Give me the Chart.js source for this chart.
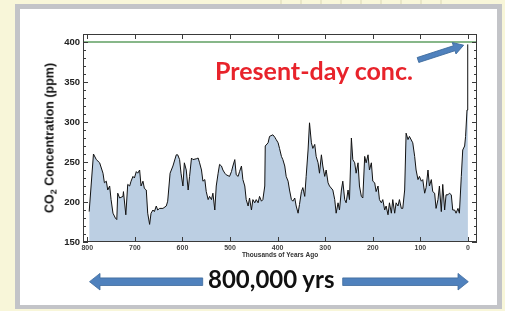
<!DOCTYPE html>
<html>
<head>
<meta charset="utf-8">
<script src="https://cdn.jsdelivr.net/npm/chart.js@4"></script>
<style>
    body {
        margin: 0;
        width: 505px;
        height: 311px;
        background: #f8f6d9;
        position: relative;
        overflow: hidden;
        font-family: "Liberation Sans", Arial, sans-serif;
    }
    #grid {
        position: absolute; left: 262px; top: 0; width: 192px; height: 5px;
        background: repeating-linear-gradient(90deg, #f8f6d9 0 18px, #e9e6c6 18px 20px);
    }
    #frame { position: absolute; left: 15px; top: 4px; width: 487px; height: 305px; background: #c3c4c8; }
    #panel { position: absolute; left: 20px; top: 9px; width: 477px; height: 296px; background: #fff; }
    #myChart { position: absolute; left: 0; top: 0; }
    #ytitle {
        position: absolute; left: 50px; top: 138px;
        transform: translate(-50%, -50%) rotate(-90deg);
        white-space: nowrap; font-weight: bold; font-size: 12.5px; line-height: 13px; color: #111;
    }
    #ytitle sub { font-size: 9px; vertical-align: -3px; line-height: 0; }
    #present {
        position: absolute; left: 215px; top: 58px;
        font-family: Lato, "Open Sans", sans-serif; font-weight: bold; font-size: 25px; line-height: 25px;
        color: #e8232b; white-space: nowrap;
    }
    #span {
        position: absolute; left: 208px; top: 267px;
        font-family: Lato, "Open Sans", sans-serif; font-weight: bold; font-size: 24px; line-height: 24px;
        color: #111; white-space: nowrap;
    }
    #arrows { position: absolute; left: 0; top: 0; }
</style>
</head>
<body>
<div id="grid"></div>
<div id="frame"></div>
<div id="panel"></div>
<canvas id="myChart" width="505" height="311"></canvas>
<div id="ytitle">CO<sub>2</sub> Concentration (ppm)</div>
<div id="present">Present-day conc.</div>
<div id="span">800,000 yrs</div>
<svg id="arrows" width="505" height="311">
    <g fill="#4f81bd" stroke="#3d6a9c" stroke-width="0.8">
        <g transform="translate(418,60) rotate(-18)">
            <polygon points="0,-2.6 38,-2.6 38,-6 48,0 38,6 38,2.6 0,2.6"/>
        </g>
        <polygon points="89.5,281.7 100,273.4 100,277.9 202.7,277.9 202.7,285.5 100,285.5 100,290"/>
        <polygon points="468.3,281.7 458,273.4 458,277.9 342.7,277.9 342.7,285.5 458,285.5 458,290"/>
    </g>
</svg>

<script>
//============================
//  data
//============================
// thousands of years ago
const ages = [
    796, 787, 781, 774, 767, 764, 760, 757, 753, 750, 746, 741, 738, 736, 732, 725, 724, 719, 715, 711,
    708, 704, 701, 697, 694, 690, 687, 683, 680, 676, 673, 669, 666, 662, 659, 655, 652, 648, 641, 634,
    631, 626, 620, 613, 610, 606, 603, 599, 596, 592, 588, 585, 581, 578, 571, 567, 564, 560, 557, 553,
    550, 546, 543, 539, 536, 532, 529, 525, 522, 518, 515, 511, 508, 501, 497, 494, 490, 487, 483, 480,
    476, 473, 469, 466, 462, 459, 455, 452, 448, 445, 441, 438, 434, 431, 427, 426, 420, 417, 410, 406,
    403, 399, 396, 392, 389, 385, 382, 378, 375, 371, 368, 364, 361, 357, 354, 350, 347, 343, 340, 336,
    333, 329, 326, 322, 319, 315, 312, 308, 305, 301, 298, 294, 291, 284, 280, 277, 273, 270, 266, 263,
    259, 256, 252, 249, 245, 242, 238, 235, 231, 228, 224, 221, 217, 214, 210, 207, 203, 200, 196, 193,
    189, 186, 182, 179, 175, 172, 168, 165, 161, 158, 154, 151, 147, 144, 140, 137, 133, 130, 126, 123,
    116, 112, 109, 105, 102, 98, 95, 91, 88, 84, 81, 77, 74, 70, 67, 63, 60, 56, 53, 49,
    46, 42, 39, 35, 32, 28, 25, 21, 18, 14, 11, 7, 5, 2, 1, 0
];
// CO2 in ppm
const co2 = [
    188, 260, 253, 249, 236, 224, 226, 215, 220, 203, 186, 180, 178, 211, 205, 207, 213, 184, 222, 220,
    226, 232, 230, 238, 236, 240, 220, 226, 217, 215, 186, 172, 186, 190, 188, 195, 190, 192, 192, 195,
    201, 236, 245, 259, 259, 253, 236, 220, 249, 240, 215, 232, 255, 253, 254, 255, 249, 240, 226, 228,
    213, 203, 207, 203, 211, 190, 220, 236, 247, 245, 240, 236, 234, 232, 238, 245, 253, 234, 232, 238,
    245, 228, 220, 203, 195, 205, 190, 203, 199, 203, 199, 207, 201, 203, 220, 270, 274, 282, 284, 281,
    278, 274, 267, 257, 253, 245, 232, 226, 215, 203, 201, 205, 195, 186, 197, 213, 218, 207, 232, 265,
    299, 274, 267, 272, 257, 249, 236, 259, 245, 232, 240, 224, 220, 215, 203, 186, 199, 190, 215, 226,
    203, 199, 215, 203, 280, 253, 249, 236, 249, 220, 207, 205, 257, 249, 259, 240, 249, 226, 224, 213,
    220, 203, 199, 203, 190, 195, 184, 199, 186, 203, 186, 199, 195, 203, 192, 192, 215, 286, 278, 282,
    274, 257, 240, 228, 232, 226, 228, 211, 218, 240, 220, 228, 213, 211, 192, 203, 220, 188, 222, 190,
    209, 209, 211, 209, 190, 190, 186, 192, 186, 232, 265, 270, 282, 315, 340, 397
];
const presentLevel = 400;
const yTicks = [150, 200, 250, 300, 350, 400];
const xTicks = [800, 700, 600, 500, 400, 300, 200, 100, 0];
const yMin = 150, yMax = 410;
const xMin = -19, xMax = 809;

//============================
//  frame + inward ticks
//============================
const frameTicks = {
    id: 'frameTicks',
    afterDatasetsDraw(chart) {
        const { ctx, chartArea: a, scales: { x, y } } = chart;
        ctx.save();
        ctx.strokeStyle = '#3a3a3a';
        ctx.lineWidth = 1;
        ctx.strokeRect(a.left + 0.5, a.top + 0.5, a.right - a.left - 1, a.bottom - a.top - 1);
        ctx.beginPath();
        for (let v = yMin; v <= yMax; v += 10) {
            const py = Math.round(y.getPixelForValue(v)) + 0.5;
            const len = v % 50 === 0 ? 5 : 3;
            ctx.moveTo(a.left, py); ctx.lineTo(a.left + len, py);
            ctx.moveTo(a.right, py); ctx.lineTo(a.right - len, py);
        }
        xTicks.forEach(v => {
            const px = Math.round(x.getPixelForValue(v)) + 0.5;
            ctx.moveTo(px, a.bottom); ctx.lineTo(px, a.bottom - 5);
            ctx.moveTo(px, a.top); ctx.lineTo(px, a.top + 5);
        });
        ctx.stroke();
        ctx.restore();
    }
};

const ctx = document.getElementById('myChart').getContext('2d');
const myChart = new Chart(ctx, {
    type: 'line',
    data: {
        datasets: [{
            data: ages.map((a, i) => ({ x: a, y: co2[i] })),
            borderColor: '#111',
            borderWidth: 1,
            backgroundColor: '#bccfe3',
            fill: 'start',
            pointRadius: 0,
            tension: 0
        }, {
            data: [{ x: xMax, y: presentLevel }, { x: xMin, y: presentLevel }],
            borderColor: '#5f9f62',
            borderWidth: 1.3,
            pointRadius: 0,
            fill: false
        }]
    },
    options: {
        responsive: false,
        animation: false,
        layout: { padding: { left: 0, right: 28, top: 34, bottom: 50 } },
        plugins: { legend: { display: false }, tooltip: { enabled: false } },
        scales: {
            x: {
                type: 'linear',
                reverse: true,
                min: xMin,
                max: xMax,
                grid: { display: false, drawTicks: false },
                border: { display: false },
                afterBuildTicks: (scale) => { scale.ticks = xTicks.map(v => ({ value: v })); },
                afterFit: (scale) => { scale.height = 19; },
                ticks: {
                    padding: 2,
                    maxRotation: 0,
                    color: '#444',
                    font: { family: 'Liberation Sans', size: 7, weight: 'bold' }
                },
                title: {
                    display: true,
                    text: 'Thousands of Years Ago',
                    color: '#333',
                    padding: { top: 0, bottom: 2 },
                    font: { family: 'Liberation Sans', size: 6.5, weight: 'bold' }
                }
            },
            y: {
                min: yMin,
                max: yMax,
                grid: { display: false, drawTicks: false },
                border: { display: false },
                afterBuildTicks: (scale) => { scale.ticks = yTicks.map(v => ({ value: v })); },
                afterFit: (scale) => { scale.width = 83; },
                ticks: {
                    padding: 3,
                    color: '#222',
                    font: { family: 'Liberation Sans', size: 9.5, weight: 'bold' }
                }
            }
        }
    },
    plugins: [frameTicks]
});
</script>
</body>
</html>
